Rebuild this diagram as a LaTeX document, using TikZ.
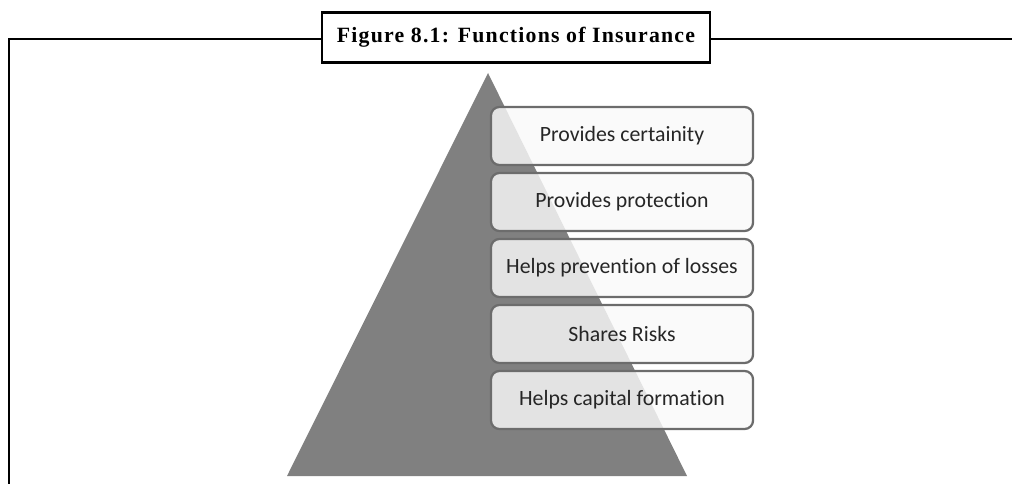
\documentclass[tikz,border=0pt]{standalone}
\usepackage{fontspec}
\setmainfont{Carlito}[RawFeature=-liga]
\newfontfamily\titlefont{Liberation Serif}[LetterSpace=5.5]
\usepackage{tikz}

\begin{document}
\begin{tikzpicture}[x=0.025cm, y=-0.025cm,
		func/.style={rectangle, rounded corners=6pt, draw=gray!85!black, line width=1.6pt,
			fill=gray!5, fill opacity=0.82, text opacity=1, text=black!85,
			minimum width=6.55cm, minimum height=1.45cm, font=\fontsize{15.5}{18}\selectfont}]
		\useasboundingbox (0,0) rectangle (1012,484);
		% frame round the figure
		\draw[line width=2.1pt] (9,484) -- (9,39) -- (1012,39);
		\path (516,37.5) node[rectangle, draw, line width=1.8pt, fill=white, minimum width=9.7cm,
			minimum height=1.25cm, font=\titlefont\bfseries\fontsize{15.5}{18}\selectfont](title)
			{Figure 8.1: Functions of Insurance};
		% pyramid
		\coordinate (apex) at (488,73);
		\coordinate (baseL) at (287,476);
		\coordinate (baseR) at (687,476);
		\fill[black!50] (apex) -- (baseL) -- (baseR) -- cycle;
		% functions
		\path (622,136) node[func](f1){Provides certainity}
		(622,202) node[func](f2){Provides protection}
		(622,268) node[func](f3){Helps prevention of losses}
		(622,334) node[func](f4){Shares Risks}
		(622,400) node[func](f5){Helps capital formation};
	\end{tikzpicture}
\end{document}
